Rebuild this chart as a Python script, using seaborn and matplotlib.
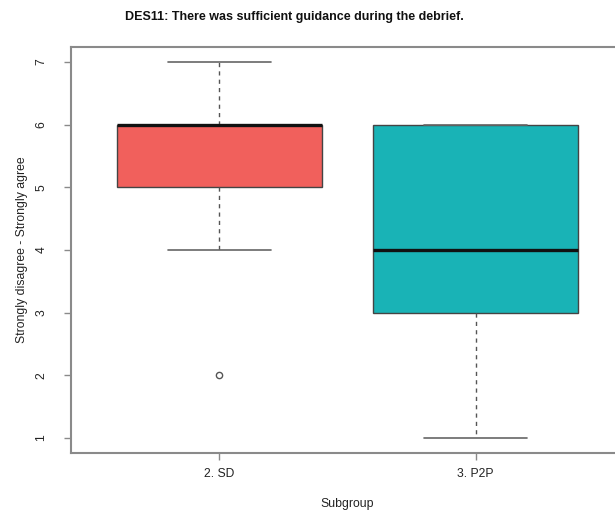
import matplotlib
matplotlib.use("Agg")
import matplotlib.pyplot as plt
import seaborn as sns
import pandas as pd

# Survey responses (1 = strongly disagree ... 7 = strongly agree)
sd_scores = [2, 4, 5, 5, 5, 6, 6, 6, 6, 6, 6, 7]
p2p_scores = [1, 3, 3, 4, 4, 5, 6, 6, 6]
groups = ["2. SD", "3. P2P"]
colors = ["#F1605C", "#19B3B6"]
y_ticks = [1, 2, 3, 4, 5, 6, 7]

df = pd.DataFrame({
    "Subgroup": [groups[0]] * len(sd_scores) + [groups[1]] * len(p2p_scores),
    "Score": sd_scores + p2p_scores,
})

sns.set_style("white")
plt.rcParams["font.family"] = ["Liberation Sans", "DejaVu Sans"]

fig = plt.figure(figsize=(6.15, 5.13), dpi=100)
ax = fig.add_axes([71 / 615, 60 / 513, 553 / 615, 406 / 513])

line_col = "#3a3a3a"
sns.boxplot(
    data=df, x="Subgroup", y="Score", hue="Subgroup", order=groups,
    hue_order=groups, palette=colors, legend=False, width=0.8, whis=1.5,
    linecolor=line_col, linewidth=1.0, saturation=1, ax=ax,
    boxprops=dict(edgecolor="#444444", linewidth=1.0),
    whiskerprops=dict(color="#555555", linestyle=(0, (3, 3)), linewidth=1.0),
    capprops=dict(color="#666666", linewidth=1.2),
    medianprops=dict(color="#111111", linewidth=2.4),
    flierprops=dict(marker="o", markersize=4.5, markerfacecolor="none",
                    markeredgecolor="#555555", markeredgewidth=1.0),
)

ax.set_xlim(-0.58, 1.58)
ax.set_ylim(0.76, 7.24)
ax.set_yticks(y_ticks)
ax.set_yticklabels([str(v) for v in y_ticks], rotation=90, va="center")

for side, spine in ax.spines.items():
    spine.set_visible(True)
    spine.set_color("#8a8a8a")
    spine.set_linewidth(1.5)

ax.tick_params(axis="both", which="both", direction="out", length=5,
               width=1.0, color="#8a8a8a", labelsize=8.7, labelcolor="#222222",
               left=True, bottom=True)
ax.tick_params(axis="y", pad=12)
ax.tick_params(axis="x", pad=6)

ax.set_xlabel("Subgroup", fontsize=8.8, color="#222222", labelpad=13)
ax.set_ylabel("Strongly disagree - Strongly agree", fontsize=8.8,
              color="#222222", labelpad=5)
fig.text(294 / 615, 1 - 17 / 513,
         "DES11: There was sufficient guidance during the debrief.",
         ha="center", va="center", fontsize=9.0, fontweight="bold",
         color="#111111")

fig.savefig("out.png", dpi=100)
